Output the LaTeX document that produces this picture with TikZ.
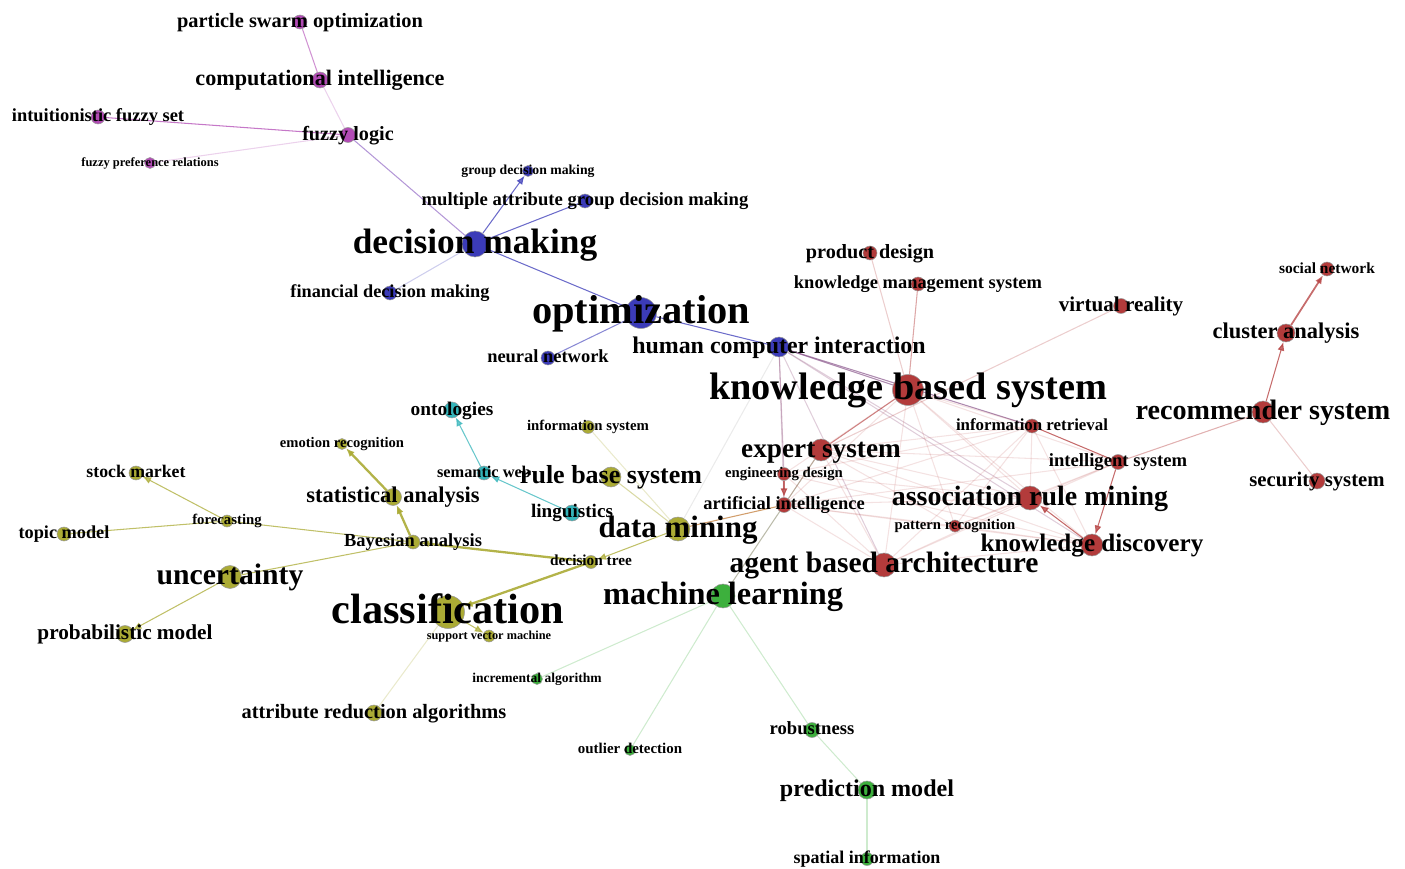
\documentclass[tikz,border=0pt]{standalone}
\usepackage{fontspec}
\setmainfont{Liberation Serif}
\usetikzlibrary{arrows.meta}
\pgfdeclarelayer{edges}
\pgfsetlayers{edges,main}

\definecolor{cPur}{HTML}{B24BB5}
\definecolor{cBlu}{HTML}{3B3BB8}
\definecolor{cTea}{HTML}{35B4BA}
\definecolor{cOli}{HTML}{ABAB35}
\definecolor{cGrn}{HTML}{3DB03D}
\definecolor{cRed}{HTML}{B33B3B}

\tikzset{
  kw/.style={circle, draw=black!40, line width=0.3pt, inner sep=0, fill=#1},
  lbl/.style={anchor=base, inner sep=0, outer sep=0},
  link/.style={draw=#1, line width=0.6pt, opacity=0.75},
  faint/.style={opacity=0.25},
  heavy/.style={line width=1.3pt, opacity=0.9},
  >={Latex[length=5pt,width=4pt]}
}

% name, x, y, dot size (px), colour, font size (pt), text
\newcommand{\term}[7]{%
  \node (#1) [kw=#5, minimum size=#4*0.2mm] at (#2,#3) {};
  \node (#1-t) [lbl, yshift=-#6*0.26pt, font=\fontsize{#6}{#6}\selectfont\bfseries] at (#1.center) {#7};}

\begin{document}
\begin{tikzpicture}[x=0.2mm,y=-0.2mm]
\useasboundingbox (0,0) rectangle (1405,869);

\term{psw}{300}{22}{14}{cPur}{11.6}{particle swarm optimization}
\term{ci}{320}{80}{16}{cPur}{12.6}{computational intelligence}
\term{ifs}{98}{117}{14}{cPur}{10.5}{intuitionistic fuzzy set}
\term{fl}{348}{135}{15}{cPur}{11.5}{fuzzy logic}
\term{fpr}{150}{163}{11}{cPur}{7.1}{fuzzy preference relations}

\term{gdm}{528}{171}{11}{cBlu}{7.8}{group decision making}
\term{madm}{585}{201}{14}{cBlu}{10.6}{multiple attribute group decision making}
\term{dmk}{475}{244}{26}{cBlu}{20.1}{decision making}
\term{fdm}{390}{293}{14}{cBlu}{10.4}{financial decision making}
\term{opt}{641}{313}{31}{cBlu}{23}{optimization}
\term{nn}{548}{358}{14}{cBlu}{10.5}{neural network}
\term{hci}{779}{347}{20}{cBlu}{13.6}{human computer interaction}

\term{ont}{452}{410}{16}{cTea}{11}{ontologies}
\term{sw}{484}{473}{14}{cTea}{9.3}{semantic web}
\term{lin}{572}{513}{16}{cTea}{10.9}{linguistics}

\term{isys}{588}{427}{13}{cOli}{8.4}{information system}
\term{rbs}{611}{477}{20}{cOli}{14.8}{rule base system}
\term{er}{342}{444}{11}{cOli}{8.3}{emotion recognition}
\term{sm}{136}{473}{14}{cOli}{10.1}{stock market}
\term{sa}{393}{497}{17}{cOli}{12.8}{statistical analysis}
\term{fc}{227}{521}{12}{cOli}{8.4}{forecasting}
\term{tm}{64}{534}{14}{cOli}{10.4}{topic model}
\term{ba}{413}{542}{14}{cOli}{10.5}{Bayesian analysis}
\term{dmn}{678}{529}{24}{cOli}{17.6}{data mining}
\term{dt}{591}{562}{13}{cOli}{8.7}{decision tree}
\term{unc}{230}{577}{23}{cOli}{16.9}{uncertainty}
\term{cls}{448}{612}{33}{cOli}{24.1}{classification}
\term{svm}{489}{636}{12}{cOli}{7}{support vector machine}
\term{pm}{125}{634}{17}{cOli}{12.1}{probabilistic model}
\term{ara}{374}{713}{16}{cOli}{11.6}{attribute reduction algorithms}

\term{ml}{723}{596}{24}{cGrn}{18.4}{machine learning}
\term{ia}{537}{679}{11}{cGrn}{7.7}{incremental algorithm}
\term{od}{630}{750}{11}{cGrn}{8.5}{outlier detection}
\term{rob}{812}{730}{15}{cGrn}{10.6}{robustness}
\term{pmd}{867}{790}{18}{cGrn}{13.7}{prediction model}
\term{si}{867}{859}{13}{cGrn}{10.2}{spatial information}

\term{pd}{870}{253}{14}{cRed}{11.5}{product design}
\term{kms}{918}{284}{14}{cRed}{10.5}{knowledge management system}
\term{vr}{1121}{306}{15}{cRed}{12}{virtual reality}
\term{kbs}{908}{390}{31}{cRed}{21.8}{knowledge based system}
\term{es}{821}{450}{22}{cRed}{15.5}{expert system}
\term{ir}{1032}{426}{14}{cRed}{9.6}{information retrieval}
\term{ed}{784}{474}{13}{cRed}{8.4}{engineering design}
\term{is}{1118}{462}{15}{cRed}{10.6}{intelligent system}
\term{ai}{784}{505}{15}{cRed}{10.5}{artificial intelligence}
\term{arm}{1030}{498}{24}{cRed}{15.9}{association rule mining}
\term{pr}{955}{526}{12}{cRed}{8.35}{pattern recognition}
\term{kd}{1092}{545}{22}{cRed}{14.3}{knowledge discovery}
\term{aba}{884}{565}{24}{cRed}{16.8}{agent based architecture}
\term{sn}{1327}{269}{14}{cRed}{8.8}{social network}
\term{ca}{1286}{333}{18}{cRed}{12.8}{cluster analysis}
\term{rs}{1263}{412}{22}{cRed}{16}{recommender system}
\term{ss}{1317}{481}{16}{cRed}{11.8}{security system}

\begin{pgfonlayer}{edges}
\draw [link=cPur, opacity=0.6] (psw) -- (ci);
\draw [link=cPur, faint] (ci) -- (fl);
\draw [link=cPur] (ifs) -- (fl);
\draw [link=cPur, faint] (fpr) -- (fl);
\draw [link=cPur!50!cBlu, opacity=0.55] (fl) -- (dmk);

\draw [link=cBlu, ->] (dmk) -- (gdm);
\draw [link=cBlu] (dmk) -- (madm);
\draw [link=cBlu, faint] (dmk) -- (fdm);
\draw [link=cBlu] (dmk) -- (opt);
\draw [link=cBlu, opacity=0.6] (opt) -- (nn);
\draw [link=cBlu] (opt) -- (hci);
\draw [link=cBlu!50!cRed, opacity=0.6] (hci) -- (kbs);
\draw [link=cBlu!50!cRed, opacity=0.6] (hci) -- (ir);
\draw [link=cBlu!40!cRed, opacity=0.35] (hci) -- (ed);
\draw [link=cBlu!40!cRed, faint] (hci) -- (aba);
\draw [link=cBlu!40!cRed, faint] (hci) -- (arm);
\draw [link=cBlu!40!cRed, faint] (hci) -- (kd);
\draw [link=cBlu!40!cRed, faint] (hci) -- (ai);
\draw [link=black!40, opacity=0.2] (hci) -- (dmn);

\draw [link=cTea, ->] (lin) -- (sw);
\draw [link=cTea, ->] (sw) -- (ont);

\draw [link=cOli, faint] (isys) -- (dmn);
\draw [link=cOli, opacity=0.45] (rbs) -- (dmn);
\draw [link=cOli, ->] (dmn) -- (dt);
\draw [link=cOli, heavy, ->] (dt) -- (ba);
\draw [link=cOli, heavy, ->] (dt) -- (cls);
\draw [link=cOli, heavy, ->] (ba) -- (sa);
\draw [link=cOli, heavy, ->] (sa) -- (er);
\draw [link=cOli] (ba) -- (fc);
\draw [link=cOli, ->] (fc) -- (sm);
\draw [link=cOli] (fc) -- (tm);
\draw [link=cOli] (ba) -- (unc);
\draw [link=cOli, ->] (unc) -- (pm);
\draw [link=cOli, ->] (cls) -- (svm);
\draw [link=cOli, faint] (cls) -- (ara);
\draw [link=cOli!50!cRed!80!orange, opacity=0.7] (dmn) -- (ai);
\draw [link=cOli!40!black!60, opacity=0.6] (es) -- (ml);

\draw [link=cGrn, faint] (ml) -- (ia);
\draw [link=cGrn, faint] (ml) -- (od);
\draw [link=cGrn, faint] (ml) -- (rob);
\draw [link=cGrn, faint] (rob) -- (pmd);
\draw [link=cGrn, faint] (pmd) -- (si);

\draw [link=cRed, faint] (pd) -- (kbs);
\draw [link=cRed, opacity=0.45] (kms) -- (kbs);
\draw [link=cRed, faint] (vr) -- (es);
\draw [link=cRed, opacity=0.6] (kbs) -- (es);
\draw [link=cRed] (ir) -- (is);
\draw [link=cRed, ->] (is) -- (kd);
\draw [link=cRed, ->] (kd) -- (arm);
\draw [link=cRed, ->] (ed) -- (ai);
\draw [link=cRed, opacity=0.4] (is) -- (rs);
\draw [link=cRed, ->] (rs) -- (ca);
\draw [link=cRed, line width=1pt, ->] (ca) -- (sn);
\draw [link=cRed, faint] (rs) -- (ss);
\foreach \a/\b in {kbs/ai, kbs/arm, kbs/kd, kbs/pr, kbs/aba, kbs/ir, kbs/is, kbs/ed,
    es/ir, es/arm, es/kd, es/pr, es/aba, es/is, ai/arm, ai/kd, ai/pr, ai/ir, ai/is,
    ai/aba, ed/arm, ed/kd, ed/ir, ed/aba, ir/arm, ir/kd, ir/pr, ir/aba, arm/aba,
    arm/pr, pr/kd, aba/kd, aba/is, is/arm, pr/is, es/ai}
  \draw [link=cRed, opacity=0.15] (\a) -- (\b);
\end{pgfonlayer}
\end{tikzpicture}
\end{document}
